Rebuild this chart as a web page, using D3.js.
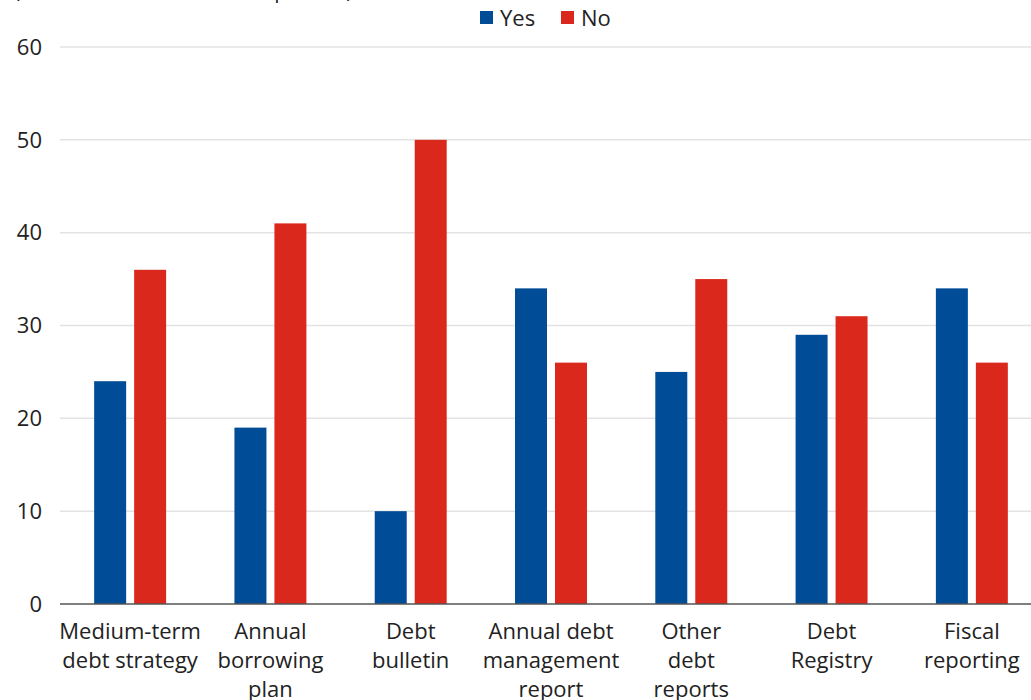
<!DOCTYPE html>
<html>
<head>
<meta charset="utf-8">
<script src="https://cdn.jsdelivr.net/npm/d3@7"></script>
<style>
  body { margin: 0; background: #fff; }
  svg text { font-family: "Open Sans", Lato, sans-serif; fill: #222; }
</style>
</head>
<body>
<div id="chart"></div>
<script>
var categories = [
    ["Medium-term", "debt strategy"],
    ["Annual", "borrowing", "plan"],
    ["Debt", "bulletin"],
    ["Annual debt", "management", "report"],
    ["Other", "debt", "reports"],
    ["Debt", "Registry"],
    ["Fiscal", "reporting"]
];
var yesValues = [24, 19, 10, 34, 25, 29, 34];
var noValues = [36, 41, 50, 26, 35, 31, 26];
var seriesNames = ["Yes", "No"];
var yTicks = [0, 10, 20, 30, 40, 50, 60];

var svgWidth = 1031;
var svgHeight = 700;
var colors = { Yes: "#004c97", No: "#da291c" };

var svg = d3.select("#chart")
    .append("svg")
    .attr("width", svgWidth)
    .attr("height", svgHeight);

var rows = categories.map(function (c, i) {
    return { key: i, Yes: yesValues[i], No: noValues[i] };
});

// group scale runs past the right edge, like the original crop
var x0 = d3.scaleBand()
    .domain(d3.range(categories.length))
    .range([60, 1042])
    .paddingInner(0.487)
    .paddingOuter(0.2435);

var x1 = d3.scaleBand()
    .domain(seriesNames)
    .range([0, x0.bandwidth()])
    .paddingInner(0.2);

var y = d3.scaleLinear()
    .domain([0, 60])
    .range([604, 47]);

// gridlines
svg.append("g")
    .selectAll("line")
    .data(yTicks.slice(1))
    .enter().append("line")
    .attr("x1", 60)
    .attr("x2", svgWidth)
    .attr("y1", d => y(d))
    .attr("y2", d => y(d))
    .attr("stroke", "#e3e3e3")
    .attr("stroke-width", 1.5);

// y tick labels
svg.append("g")
    .selectAll("text")
    .data(yTicks)
    .enter().append("text")
    .attr("x", 42)
    .attr("y", d => y(d))
    .attr("dy", "0.35em")
    .attr("text-anchor", "end")
    .style("font-size", "22px")
    .text(d => d);

// bars
var groups = svg.append("g")
    .selectAll("g")
    .data(rows)
    .enter().append("g")
    .attr("transform", d => `translate(${x0(d.key)},0)`);

groups.selectAll("rect")
    .data(d => seriesNames.map(k => ({ k: k, v: d[k] })))
    .enter().append("rect")
    .attr("x", d => x1(d.k))
    .attr("width", x1.bandwidth())
    .attr("y", d => y(d.v))
    .attr("height", d => y(0) - y(d.v))
    .attr("fill", d => colors[d.k]);

// baseline
svg.append("line")
    .attr("x1", 60)
    .attr("x2", svgWidth)
    .attr("y1", y(0))
    .attr("y2", y(0))
    .attr("stroke", "#555")
    .attr("stroke-width", 1.5);

// category labels
var labels = svg.append("g")
    .selectAll("text")
    .data(categories)
    .enter().append("text")
    .attr("x", (d, i) => x0(i) + x0.bandwidth() / 2)
    .attr("y", 639)
    .attr("text-anchor", "middle")
    .style("font-size", "22px");

labels.selectAll("tspan")
    .data(d => d)
    .enter().append("tspan")
    .attr("x", function () { return d3.select(this.parentNode).attr("x"); })
    .attr("dy", (d, i) => i === 0 ? 0 : 29)
    .text(d => d);

// unit note, mostly cut off at the top
svg.append("text")
    .attr("x", 14)
    .attr("y", -2)
    .style("font-size", "21px")
    .text("(Number of countries that publish)");

// legend
var legend = svg.append("g");
var legendX = [480, 561];
seriesNames.forEach(function (name, i) {
    legend.append("rect")
        .attr("x", legendX[i])
        .attr("y", 11)
        .attr("width", 13)
        .attr("height", 13)
        .attr("fill", colors[name]);
    legend.append("text")
        .attr("x", legendX[i] + 20)
        .attr("y", 18)
        .attr("dy", "0.35em")
        .style("font-size", "22px")
        .text(name);
});
</script>
</body>
</html>
